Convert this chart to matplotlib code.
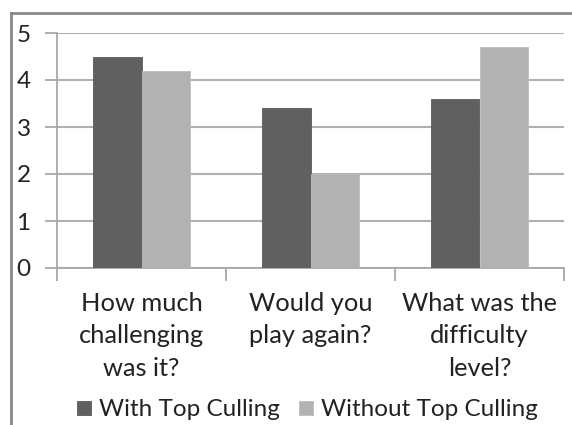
import numpy as np
import matplotlib
matplotlib.use("Agg")
import matplotlib.pyplot as plt
from matplotlib.lines import Line2D

# datos
categories = ["How much\nchallenging\nwas it?", "Would you\nplay again?", "What was the\ndifficulty\nlevel?"]
with_culling = [4.5, 3.4, 3.6]
without_culling = [4.2, 2.0, 4.7]
series_names = ["With Top Culling", "Without Top Culling"]
yticks = [0, 1, 2, 3, 4, 5]

plt.rcParams['font.family'] = ['Lato', 'DejaVu Sans']

fig = plt.figure(figsize=(5.72, 4.25), dpi=100)
ax = fig.add_axes([57/572, 1 - 268/425, (564 - 57)/572, (268 - 33)/425])

x = np.arange(len(categories))
w = 0.285
ax.bar(x - w/2, with_culling, w, color="#606060", edgecolor="#5a5a5a", linewidth=0.6,
       label=series_names[0], zorder=3)
ax.bar(x + w/2, without_culling, w, color="#b2b2b2", edgecolor="#bdbdbd", linewidth=0.6,
       label=series_names[1], zorder=3)

ax.set_xlim(-0.5, len(categories) - 0.5)
ax.set_ylim(0, 5)
ax.set_yticks(yticks)
ax.set_xticks(np.arange(len(categories) + 1) - 0.5)
ax.set_xticklabels([])
ax.set_xticks(x, minor=True)
ax.set_xticklabels(categories, minor=True, fontsize=18.3, color="#222222", linespacing=1.52)
ax.tick_params(axis='x', which='minor', length=0, pad=17)
ax.tick_params(axis='x', which='major', length=9, width=1.3, color="#a8a8a8")
ax.tick_params(axis='y', length=9, width=1.3, color="#a8a8a8", labelsize=17.5,
               labelcolor="#222222", pad=10)

ax.grid(axis='y', color="#b0b0b0", linewidth=1.5, zorder=0)
for s in ["top", "right"]:
    ax.spines[s].set_visible(False)
for s in ["left", "bottom"]:
    ax.spines[s].set_color("#a8a8a8")
    ax.spines[s].set_linewidth(1.3)

fig.legend(loc="center", bbox_to_anchor=(0.538, 1 - 410/425), ncol=2, frameon=False,
           fontsize=17.5, handlelength=0.55, handleheight=0.55, handletextpad=0.35,
           columnspacing=0.8, borderpad=0, labelcolor="#222222")

# marco del area del grafico
fig.add_artist(Line2D([11/572, 1], [1 - 13/425, 1 - 13/425], color="#888888", linewidth=2))
fig.add_artist(Line2D([11/572, 11/572], [0, 1 - 13/425], color="#888888", linewidth=2))

fig.savefig("out.png", dpi=100)
